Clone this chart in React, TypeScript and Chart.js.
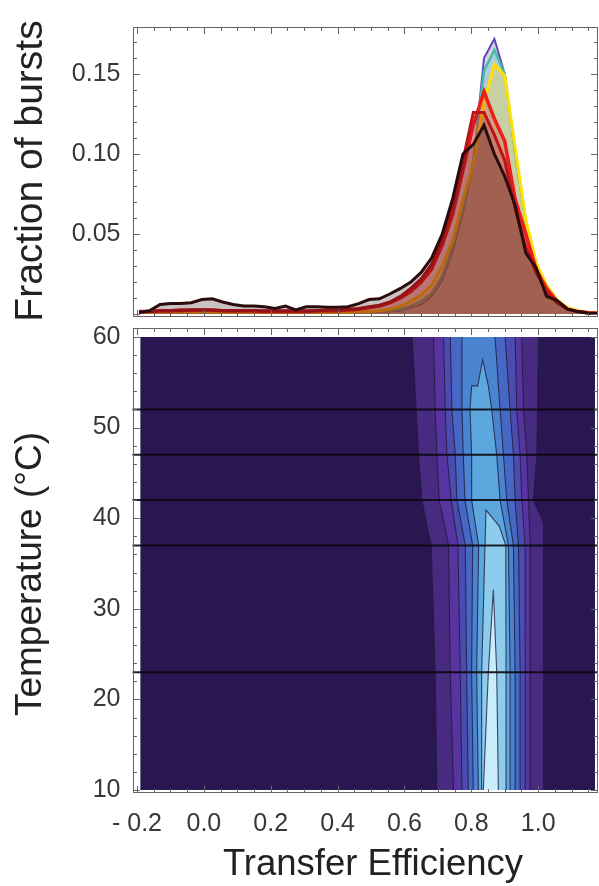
import React, { useEffect, useRef } from 'react';
import { Chart, registerables } from 'chart.js';

Chart.register(...registerables);

const FONT = "'Liberation Sans', Arial, Helvetica, sans-serif";

// ---------- Top panel: histograms of transfer efficiency ----------
const TE_BINS = [-0.194, -0.163, -0.131, -0.1, -0.069, -0.038, -0.006, 0.025, 0.056, 0.088, 0.119, 0.15, 0.181, 0.213, 0.244, 0.275, 0.306, 0.338, 0.369, 0.4, 0.431, 0.463, 0.494, 0.525, 0.556, 0.588, 0.619, 0.65, 0.681, 0.713, 0.744, 0.775, 0.806, 0.838, 0.869, 0.9, 0.931, 0.963, 0.994, 1.025, 1.056, 1.088, 1.119, 1.15, 1.181];

const FRAC_PURPLE = [0.001, 0.001, 0.001, 0.001, 0.001, 0.001, 0.001, 0.001, 0.001, 0.001, 0.001, 0.001, 0.001, 0.001, 0.001, 0.001, 0.001, 0.001, 0.001, 0.001, 0.001, 0.001,
  0.001, 0.0012, 0.0015, 0.002, 0.004, 0.006, 0.011, 0.021, 0.039, 0.063, 0.094, 0.16, 0.172, 0.15, 0.1, 0.057, 0.03, 0.017, 0.008, 0.003, 0.0015, 0.001, 0.0005];
const FRAC_TEAL = [0.001, 0.001, 0.001, 0.001, 0.001, 0.001, 0.001, 0.001, 0.001, 0.001, 0.001, 0.001, 0.001, 0.001, 0.001, 0.001, 0.001, 0.001, 0.001, 0.001, 0.001, 0.001,
  0.0012, 0.0015, 0.002, 0.003, 0.005, 0.008, 0.013, 0.024, 0.042, 0.066, 0.096, 0.152, 0.165, 0.15, 0.102, 0.058, 0.031, 0.017, 0.008, 0.003, 0.0015, 0.001, 0.0005];
const FRAC_YELLOW = [0.001, 0.001, 0.001, 0.0012, 0.0012, 0.0012, 0.0012, 0.0012, 0.001, 0.001, 0.001, 0.001, 0.001, 0.001, 0.001, 0.001, 0.001, 0.001, 0.001, 0.001, 0.001, 0.0012,
  0.0015, 0.002, 0.003, 0.005, 0.008, 0.012, 0.018, 0.03, 0.046, 0.071, 0.094, 0.132, 0.156, 0.149, 0.104, 0.059, 0.032, 0.018, 0.009, 0.004, 0.002, 0.001, 0.0005];
const FRAC_RED = [0.0015, 0.0015, 0.002, 0.002, 0.0025, 0.0025, 0.0025, 0.0025, 0.002, 0.002, 0.002, 0.002, 0.0015, 0.0015, 0.0015, 0.0015, 0.0015, 0.002, 0.002, 0.002, 0.0025, 0.003,
  0.004, 0.005, 0.007, 0.01, 0.014, 0.02, 0.028, 0.043, 0.062, 0.09, 0.118, 0.139, 0.122, 0.108, 0.072, 0.05, 0.028, 0.016, 0.008, 0.003, 0.0015, 0.0008, 0.0004];
const FRAC_CRIMSON = [0.0015, 0.0015, 0.002, 0.002, 0.002, 0.0025, 0.0025, 0.0025, 0.002, 0.002, 0.002, 0.002, 0.002, 0.002, 0.002, 0.002, 0.002, 0.002, 0.0025, 0.0025, 0.003, 0.0035,
  0.0045, 0.0055, 0.0075, 0.011, 0.016, 0.022, 0.031, 0.047, 0.068, 0.096, 0.126, 0.126, 0.112, 0.096, 0.066, 0.042, 0.026, 0.014, 0.007, 0.003, 0.0015, 0.0008, 0.0004];
const FRAC_BLACK = [0.001, 0.002, 0.006, 0.0065, 0.0065, 0.007, 0.009, 0.0095, 0.0075, 0.006, 0.005, 0.005, 0.0045, 0.0035, 0.005, 0.0025, 0.0045, 0.0045, 0.0042, 0.0042, 0.0045, 0.0065,
  0.009, 0.0095, 0.0125, 0.016, 0.02, 0.026, 0.035, 0.05, 0.072, 0.1, 0.106, 0.118, 0.1, 0.086, 0.068, 0.038, 0.029, 0.011, 0.0085, 0.003, 0.0015, 0.0005, 0.0003];

const FRACTION_TICKS = [0.05, 0.1, 0.15];
const TE_TICKS = [-0.2, 0, 0.2, 0.4, 0.6, 0.8, 1.0];
const TEMP_TICKS = [10, 20, 30, 40, 50, 60];

// ---------- Bottom panel: contour bands as [TE, temperature] outlines ----------
const TEMP_TOP = 60;
const MEASURED_TEMPS = [23, 37, 42, 47, 52];
const HLINE_TE = [-0.3, 1.3];
const BAND0 = [[-0.19, 10], [-0.19, 60], [1.17, 60], [1.17, 10]];
const BAND1 = [[0.697, 10], [0.692, 23], [0.68, 37], [0.652, 42], [0.642, 47], [0.635, 52], [0.623, 60], [1.001, 60], [0.998, 52], [0.996, 47], [0.986, 42], [1.016, 39.5], [1.016, 37], [1.016, 23], [1.016, 10]];
const BAND2 = [[0.747, 10], [0.737, 23], [0.732, 37], [0.704, 42], [0.697, 47], [0.692, 52], [0.687, 60], [0.951, 60], [0.956, 52], [0.966, 47], [0.971, 42], [0.976, 37], [0.976, 23], [0.976, 10]];
const BAND3 = [[0.772, 10], [0.767, 23], [0.76, 37], [0.74, 42], [0.727, 47], [0.722, 52], [0.717, 60], [0.931, 60], [0.936, 52], [0.946, 47], [0.951, 42], [0.961, 37], [0.961, 23], [0.961, 10]];
const BAND4 = [[0.791, 10], [0.786, 23], [0.782, 37], [0.757, 42], [0.752, 47], [0.742, 52], [0.737, 60], [0.901, 60], [0.916, 52], [0.926, 47], [0.931, 42], [0.941, 37], [0.946, 23], [0.946, 10]];
const BAND5 = [[0.806, 10], [0.801, 23], [0.804, 37], [0.781, 42], [0.776, 47], [0.772, 52], [0.772, 60], [0.871, 60], [0.886, 52], [0.896, 47], [0.906, 42], [0.926, 37], [0.931, 23], [0.931, 10]];
const BAND6 = [[0.821, 10], [0.816, 23], [0.822, 37], [0.801, 42], [0.801, 47], [0.796, 52], [0.801, 54.6], [0.819, 54.6], [0.834, 57.5], [0.851, 54.6], [0.861, 52], [0.876, 47], [0.886, 42], [0.911, 37], [0.916, 23], [0.916, 10]];
const BAND7 = [[0.831, 10], [0.831, 23], [0.841, 37], [0.844, 40.9], [0.862, 40.1], [0.884, 39.1], [0.903, 37], [0.904, 23], [0.904, 10]];
const BAND8 = [[0.836, 10], [0.851, 23], [0.866, 32.1], [0.876, 23], [0.881, 10]];

const BANDS = [BAND0, BAND1, BAND2, BAND3, BAND4, BAND5, BAND6, BAND7, BAND8];
const BAND_COLORS = ['#2a1650', '#482a80', '#5834a0', '#4c4cb0', '#4668c4', '#4a84d0', '#5ca8de', '#8eccee', '#c8ecfa'];

function rgba(hex: string, a: number) {
  const n = parseInt(hex.slice(1), 16);
  return `rgba(${(n >> 16) & 255},${(n >> 8) & 255},${n & 255},${a})`;
}

const zeroPad = (s: any) => { s.paddingTop = 0; s.paddingBottom = 0; s.paddingLeft = 0; s.paddingRight = 0; };

const frameTicks = {
  id: 'frameTicks',
  afterDraw(chart: any, _a: any, opts: any) {
    const { ctx, chartArea: a, scales } = chart;
    const L = Math.round(a.left) + 0.5, R = Math.round(a.right) - 0.5;
    const T = Math.round(a.top) + 0.5, B = Math.round(a.bottom) - 0.5;
    ctx.save();
    ctx.strokeStyle = opts.color;
    ctx.lineWidth = 1;
    ctx.strokeRect(L, T, R - L, B - T);
    const mark = (scale: any, step: number, len: number, horiz: boolean) => {
      const n0 = Math.ceil(scale.min / step - 1e-9);
      const n1 = Math.floor(scale.max / step + 1e-9);
      ctx.beginPath();
      for (let n = n0; n <= n1; n++) {
        const p = Math.round(scale.getPixelForValue(n * step)) + 0.5;
        if (horiz) {
          ctx.moveTo(p, T); ctx.lineTo(p, T + len);
          ctx.moveTo(p, B); ctx.lineTo(p, B - len);
        } else {
          ctx.moveTo(L, p); ctx.lineTo(L + len, p);
          ctx.moveTo(R, p); ctx.lineTo(R - len, p);
        }
      }
      ctx.stroke();
    };
    mark(scales.x, opts.xMinor, 3.5, true);
    mark(scales.x, opts.xMajor, 6.5, true);
    mark(scales.y, opts.yMinor, 3.5, false);
    mark(scales.y, opts.yMajor, 6.5, false);
    ctx.restore();
  },
};

const sideTitles = {
  id: 'sideTitles',
  afterDraw(chart: any, _a: any, opts: any) {
    const { ctx } = chart;
    for (const t of opts.items || []) {
      ctx.save();
      ctx.translate(t.x, t.y);
      ctx.rotate((t.rot * Math.PI) / 180);
      ctx.font = `${t.size}px ${FONT}`;
      ctx.fillStyle = '#222';
      ctx.textAlign = 'center';
      ctx.textBaseline = 'middle';
      ctx.fillText(t.text, 0, 0);
      ctx.restore();
    }
  },
};

const tickFont = { family: FONT, size: 25 };

export default function App() {
  const topRef = useRef<HTMLCanvasElement>(null);
  const botRef = useRef<HTMLCanvasElement>(null);

  useEffect(() => {
    const curves = [
      { data: FRAC_BLACK, color: '#2b0c0c', width: 3 },
      { data: FRAC_CRIMSON, color: '#b8141c', width: 3 },
      { data: FRAC_RED, color: '#ee1c1c', width: 3.5 },
      { data: FRAC_YELLOW, color: '#ffe000', width: 3 },
      { data: FRAC_TEAL, color: '#46bea5', width: 2.5 },
      { data: FRAC_PURPLE, color: '#6446b4', width: 2 },
    ];
    const top = new Chart(topRef.current!, {
      type: 'scatter',
      data: {
        datasets: curves.map((c, i) => ({
          data: TE_BINS.map((x, j) => ({ x, y: c.data[j] })),
          showLine: true,
          borderColor: c.color,
          borderWidth: c.width,
          backgroundColor: rgba(c.color, 0.25),
          fill: 'origin',
          pointRadius: 0,
          order: i,
        })),
      },
      options: {
        responsive: false,
        animation: false,
        events: [],
        layout: { padding: { left: 0, right: 1, top: 27, bottom: 5 }, autoPadding: false },
        plugins: {
          legend: { display: false },
          tooltip: { enabled: false },
          frameTicks: { color: '#666', xMajor: 0.2, xMinor: 0.05, yMajor: 0.05, yMinor: 0.01 },
          sideTitles: { items: [{ text: 'Fraction of bursts', x: 31, y: 171, rot: -90, size: 39 }] },
        } as any,
        scales: {
          x: { type: 'linear', min: -0.2135, max: 1.179, display: false },
          y: {
            type: 'linear',
            min: -0.001875,
            max: 0.1794,
            grid: { display: false },
            border: { display: false },
            afterBuildTicks: (s: any) => { s.ticks = FRACTION_TICKS.map((v) => ({ value: v })); },
            afterFit: (s: any) => { s.width = 132.5; zeroPad(s); },
            ticks: { font: tickFont, color: '#383838', padding: 4, callback: (v: any) => Number(v).toFixed(2) },
          },
        },
      },
      plugins: [frameTicks, sideTitles],
    });

    const bandSets = BANDS.map((b, i) => ({
      data: b.map(([x, y]) => ({ x, y })),
      showLine: true,
      fill: 'shape',
      backgroundColor: BAND_COLORS[i],
      borderColor: BAND_COLORS[i],
      borderWidth: 0,
      pointRadius: 0,
      order: 200 - 2 * i,
    }));
    const outlineSets = BANDS.slice(1).map((b, i) => {
      const pts: any[] = [];
      b.forEach((p, k) => {
        if (k > 0 && b[k - 1][1] === TEMP_TOP && p[1] === TEMP_TOP) pts.push({ x: null, y: null });
        pts.push({ x: p[0], y: p[1] });
      });
      return {
        data: pts,
        showLine: true,
        fill: false,
        spanGaps: false,
        borderColor: 'rgba(30,28,60,0.8)',
        borderWidth: 1.1,
        pointRadius: 0,
        order: 199 - 2 * (i + 1),
      };
    });
    const lineSets = MEASURED_TEMPS.map((t) => ({
      data: HLINE_TE.map((x) => ({ x, y: t })),
      showLine: true,
      fill: false,
      borderColor: 'rgba(12,8,14,0.9)',
      borderWidth: 2,
      pointRadius: 0,
      order: 0,
    }));

    const bot = new Chart(botRef.current!, {
      type: 'scatter',
      data: { datasets: [...bandSets, ...outlineSets, ...lineSets] as any },
      options: {
        responsive: false,
        animation: false,
        events: [],
        layout: { padding: { left: 0, right: 1, top: 6, bottom: 0 }, autoPadding: false },
        plugins: {
          legend: { display: false },
          tooltip: { enabled: false },
          frameTicks: { color: '#666', xMajor: 0.2, xMinor: 0.05, yMajor: 10, yMinor: 2 },
          sideTitles: {
            items: [
              { text: 'Temperature (°C)', x: 31, y: 252, rot: -90, size: 37 },
              { text: 'Transfer Efficiency', x: 373, y: 543, rot: 0, size: 36.5 },
            ],
          },
        } as any,
        scales: {
          x: {
            type: 'linear',
            min: -0.2135,
            max: 1.179,
            grid: { display: false },
            border: { display: false },
            afterBuildTicks: (s: any) => { s.ticks = TE_TICKS.map((v) => ({ value: v })); },
            afterFit: (s: any) => { s.height = 93; zeroPad(s); },
            ticks: {
              font: tickFont, color: '#383838', padding: 8, autoSkip: false, maxRotation: 0,
              callback: (v: any) => (v < 0 ? '- ' + Math.abs(v).toFixed(1) : Number(v).toFixed(1)),
            },
          },
          y: {
            type: 'linear',
            min: 9.669,
            max: 60.993,
            grid: { display: false },
            border: { display: false },
            afterBuildTicks: (s: any) => { s.ticks = TEMP_TICKS.map((v) => ({ value: v })); },
            afterFit: (s: any) => { s.width = 132.5; zeroPad(s); },
            ticks: { font: tickFont, color: '#383838', padding: 4, callback: (v: any) => String(v) },
          },
        },
      },
      plugins: [frameTicks, sideTitles],
    });

    return () => { top.destroy(); bot.destroy(); };
  }, []);

  return (
    <div style={{ position: 'absolute', left: 0, top: 0, width: 599, height: 886, background: '#fff', overflow: 'hidden' }}>
      <canvas ref={topRef} width={599} height={322} style={{ position: 'absolute', left: 0, top: 0 }} />
      <canvas ref={botRef} width={599} height={564} style={{ position: 'absolute', left: 0, top: 322 }} />
    </div>
  );
}
